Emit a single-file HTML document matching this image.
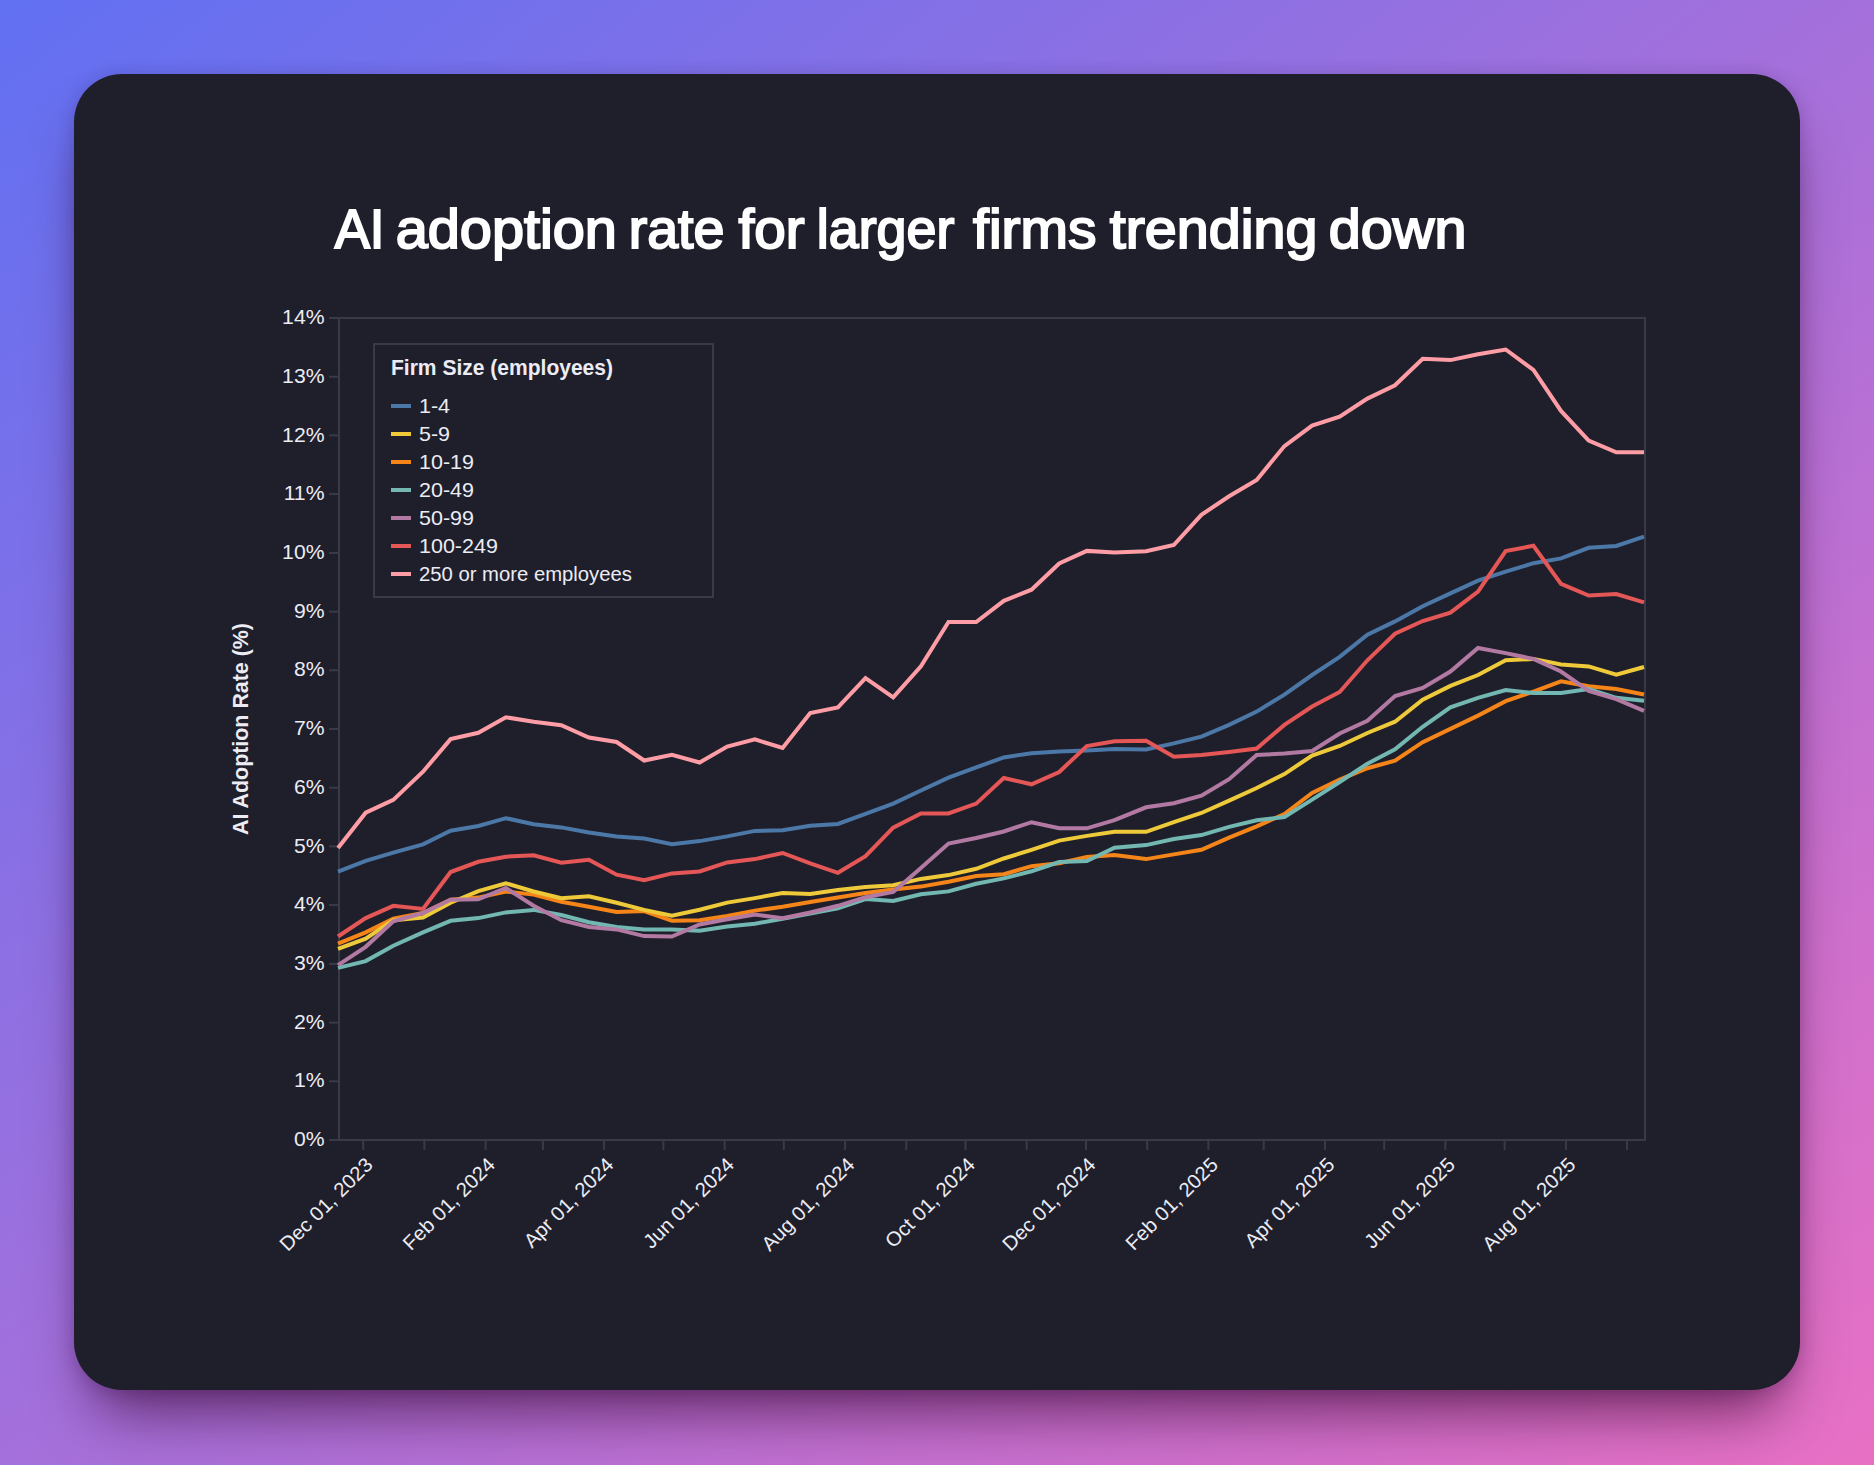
<!DOCTYPE html>
<html lang="en"><head><meta charset="utf-8"><title>AI adoption rate for larger firms trending down</title>
<style>
html,body{margin:0;padding:0}
body{width:1874px;height:1465px;overflow:hidden;position:relative;background:linear-gradient(to bottom right,#6170f2 0%,#e870c4 100%);font-family:"Liberation Sans",sans-serif}
.card{position:absolute;left:74px;top:74px;width:1726px;height:1316px;border-radius:48px;background:#1f1f2b;box-shadow:0 40px 60px -20px rgba(50,0,40,.66),0 2px 18px rgba(30,0,60,.2)}
svg{position:absolute;left:0;top:0}
text{font-family:"Liberation Sans",sans-serif;fill:#ececf4}
.tick{font-size:20px}
.xl{font-size:20px}
.leg{font-size:20px}
.bold{font-weight:700}
.ln{fill:none;stroke-width:4;stroke-linejoin:miter;stroke-miterlimit:10;stroke-linecap:butt}
</style></head><body>
<div class="card"></div>
<svg width="1874" height="1465" viewBox="0 0 1874 1465">
<g font-size="55" stroke="#fff" stroke-width="2.0" stroke-linejoin="miter" style="fill:#fff">
<text x="334.71" y="247.6" textLength="49.82" lengthAdjust="spacingAndGlyphs" style="fill:#fff">AI</text>
<text x="395.67" y="247.6" textLength="221.28" lengthAdjust="spacingAndGlyphs" style="fill:#fff">adoption</text>
<text x="628.70" y="247.6" textLength="95.81" lengthAdjust="spacingAndGlyphs" style="fill:#fff">rate</text>
<text x="738.42" y="247.6" textLength="66.16" lengthAdjust="spacingAndGlyphs" style="fill:#fff">for</text>
<text x="816.80" y="247.6" textLength="137.53" lengthAdjust="spacingAndGlyphs" style="fill:#fff">larger</text>
<text x="973.07" y="247.6" textLength="123.46" lengthAdjust="spacingAndGlyphs" style="fill:#fff">firms</text>
<text x="1109.68" y="247.6" textLength="207.68" lengthAdjust="spacingAndGlyphs" style="fill:#fff">trending</text>
<text x="1328.85" y="247.6" textLength="137.53" lengthAdjust="spacingAndGlyphs" style="fill:#fff">down</text>
</g>
<rect x="339.0" y="318.0" width="1306.0" height="822.0" fill="none" stroke="#393948" stroke-width="2"/>
<line x1="329.0" x2="339.0" y1="1140.0" y2="1140.0" stroke="#393948" stroke-width="2"/>
<text class="tick" text-anchor="end" transform="translate(324.5,1146.1) scale(1.06,1)">0%</text>
<line x1="329.0" x2="339.0" y1="1081.3" y2="1081.3" stroke="#393948" stroke-width="2"/>
<text class="tick" text-anchor="end" transform="translate(324.5,1087.4) scale(1.06,1)">1%</text>
<line x1="329.0" x2="339.0" y1="1022.6" y2="1022.6" stroke="#393948" stroke-width="2"/>
<text class="tick" text-anchor="end" transform="translate(324.5,1028.7) scale(1.06,1)">2%</text>
<line x1="329.0" x2="339.0" y1="963.9" y2="963.9" stroke="#393948" stroke-width="2"/>
<text class="tick" text-anchor="end" transform="translate(324.5,970.0) scale(1.06,1)">3%</text>
<line x1="329.0" x2="339.0" y1="905.1" y2="905.1" stroke="#393948" stroke-width="2"/>
<text class="tick" text-anchor="end" transform="translate(324.5,911.2) scale(1.06,1)">4%</text>
<line x1="329.0" x2="339.0" y1="846.4" y2="846.4" stroke="#393948" stroke-width="2"/>
<text class="tick" text-anchor="end" transform="translate(324.5,852.5) scale(1.06,1)">5%</text>
<line x1="329.0" x2="339.0" y1="787.7" y2="787.7" stroke="#393948" stroke-width="2"/>
<text class="tick" text-anchor="end" transform="translate(324.5,793.8) scale(1.06,1)">6%</text>
<line x1="329.0" x2="339.0" y1="729.0" y2="729.0" stroke="#393948" stroke-width="2"/>
<text class="tick" text-anchor="end" transform="translate(324.5,735.1) scale(1.06,1)">7%</text>
<line x1="329.0" x2="339.0" y1="670.3" y2="670.3" stroke="#393948" stroke-width="2"/>
<text class="tick" text-anchor="end" transform="translate(324.5,676.4) scale(1.06,1)">8%</text>
<line x1="329.0" x2="339.0" y1="611.6" y2="611.6" stroke="#393948" stroke-width="2"/>
<text class="tick" text-anchor="end" transform="translate(324.5,617.7) scale(1.06,1)">9%</text>
<line x1="329.0" x2="339.0" y1="552.9" y2="552.9" stroke="#393948" stroke-width="2"/>
<text class="tick" text-anchor="end" transform="translate(324.5,559.0) scale(1.06,1)">10%</text>
<line x1="329.0" x2="339.0" y1="494.1" y2="494.1" stroke="#393948" stroke-width="2"/>
<text class="tick" text-anchor="end" transform="translate(324.5,500.2) scale(1.06,1)">11%</text>
<line x1="329.0" x2="339.0" y1="435.4" y2="435.4" stroke="#393948" stroke-width="2"/>
<text class="tick" text-anchor="end" transform="translate(324.5,441.5) scale(1.06,1)">12%</text>
<line x1="329.0" x2="339.0" y1="376.7" y2="376.7" stroke="#393948" stroke-width="2"/>
<text class="tick" text-anchor="end" transform="translate(324.5,382.8) scale(1.06,1)">13%</text>
<line x1="329.0" x2="339.0" y1="318.0" y2="318.0" stroke="#393948" stroke-width="2"/>
<text class="tick" text-anchor="end" transform="translate(324.5,324.1) scale(1.06,1)">14%</text>
<line x1="363.2" x2="363.2" y1="1140.0" y2="1150.0" stroke="#393948" stroke-width="2"/>
<text class="xl" text-anchor="end" transform="translate(374.0,1166.0) rotate(-45) scale(1.025,1)">Dec 01, 2023</text>
<line x1="424.4" x2="424.4" y1="1140.0" y2="1150.0" stroke="#393948" stroke-width="2"/>
<line x1="485.6" x2="485.6" y1="1140.0" y2="1150.0" stroke="#393948" stroke-width="2"/>
<text class="xl" text-anchor="end" transform="translate(496.4,1166.0) rotate(-45) scale(1.025,1)">Feb 01, 2024</text>
<line x1="542.9" x2="542.9" y1="1140.0" y2="1150.0" stroke="#393948" stroke-width="2"/>
<line x1="604.1" x2="604.1" y1="1140.0" y2="1150.0" stroke="#393948" stroke-width="2"/>
<text class="xl" text-anchor="end" transform="translate(614.9,1166.0) rotate(-45) scale(1.025,1)">Apr 01, 2024</text>
<line x1="663.4" x2="663.4" y1="1140.0" y2="1150.0" stroke="#393948" stroke-width="2"/>
<line x1="724.6" x2="724.6" y1="1140.0" y2="1150.0" stroke="#393948" stroke-width="2"/>
<text class="xl" text-anchor="end" transform="translate(735.4,1166.0) rotate(-45) scale(1.025,1)">Jun 01, 2024</text>
<line x1="783.8" x2="783.8" y1="1140.0" y2="1150.0" stroke="#393948" stroke-width="2"/>
<line x1="845.1" x2="845.1" y1="1140.0" y2="1150.0" stroke="#393948" stroke-width="2"/>
<text class="xl" text-anchor="end" transform="translate(855.9,1166.0) rotate(-45) scale(1.025,1)">Aug 01, 2024</text>
<line x1="906.3" x2="906.3" y1="1140.0" y2="1150.0" stroke="#393948" stroke-width="2"/>
<line x1="965.5" x2="965.5" y1="1140.0" y2="1150.0" stroke="#393948" stroke-width="2"/>
<text class="xl" text-anchor="end" transform="translate(976.3,1166.0) rotate(-45) scale(1.025,1)">Oct 01, 2024</text>
<line x1="1026.7" x2="1026.7" y1="1140.0" y2="1150.0" stroke="#393948" stroke-width="2"/>
<line x1="1086.0" x2="1086.0" y1="1140.0" y2="1150.0" stroke="#393948" stroke-width="2"/>
<text class="xl" text-anchor="end" transform="translate(1096.8,1166.0) rotate(-45) scale(1.025,1)">Dec 01, 2024</text>
<line x1="1147.2" x2="1147.2" y1="1140.0" y2="1150.0" stroke="#393948" stroke-width="2"/>
<line x1="1208.4" x2="1208.4" y1="1140.0" y2="1150.0" stroke="#393948" stroke-width="2"/>
<text class="xl" text-anchor="end" transform="translate(1219.2,1166.0) rotate(-45) scale(1.025,1)">Feb 01, 2025</text>
<line x1="1263.7" x2="1263.7" y1="1140.0" y2="1150.0" stroke="#393948" stroke-width="2"/>
<line x1="1324.9" x2="1324.9" y1="1140.0" y2="1150.0" stroke="#393948" stroke-width="2"/>
<text class="xl" text-anchor="end" transform="translate(1335.7,1166.0) rotate(-45) scale(1.025,1)">Apr 01, 2025</text>
<line x1="1384.2" x2="1384.2" y1="1140.0" y2="1150.0" stroke="#393948" stroke-width="2"/>
<line x1="1445.4" x2="1445.4" y1="1140.0" y2="1150.0" stroke="#393948" stroke-width="2"/>
<text class="xl" text-anchor="end" transform="translate(1456.2,1166.0) rotate(-45) scale(1.025,1)">Jun 01, 2025</text>
<line x1="1504.6" x2="1504.6" y1="1140.0" y2="1150.0" stroke="#393948" stroke-width="2"/>
<line x1="1565.9" x2="1565.9" y1="1140.0" y2="1150.0" stroke="#393948" stroke-width="2"/>
<text class="xl" text-anchor="end" transform="translate(1576.7,1166.0) rotate(-45) scale(1.025,1)">Aug 01, 2025</text>
<line x1="1627.1" x2="1627.1" y1="1140.0" y2="1150.0" stroke="#393948" stroke-width="2"/>
<text class="bold" font-size="22" text-anchor="middle" transform="translate(248,729) rotate(-90)" textLength="212" lengthAdjust="spacingAndGlyphs">AI Adoption Rate (%)</text>
<polyline class="ln" stroke="#4c78a8" points="338.0,871.6 365.7,860.8 393.3,852.6 423.0,844.4 450.6,830.7 478.3,826.0 505.9,818.2 533.6,824.3 561.3,827.4 588.9,832.5 616.6,836.6 644.2,838.6 671.9,844.2 699.6,841.1 727.2,836.4 754.9,830.9 782.6,830.3 810.2,825.8 837.9,824.0 865.5,813.8 893.2,803.6 920.9,790.5 948.5,777.6 976.2,767.4 1003.8,757.4 1031.5,753.2 1059.2,751.5 1086.8,750.5 1114.5,748.9 1146.1,749.5 1173.8,743.4 1201.4,736.6 1229.1,724.9 1256.7,711.6 1284.4,694.6 1312.1,675.0 1339.7,656.8 1367.4,634.7 1395.0,621.4 1422.7,606.2 1450.4,593.4 1478.0,580.6 1505.7,571.7 1533.4,563.2 1561.0,558.4 1588.7,547.8 1616.3,546.0 1644.0,536.6"/>
<polyline class="ln" stroke="#f58518" points="338.0,943.7 365.7,932.4 393.3,918.7 423.0,913.0 450.6,899.7 478.3,897.6 505.9,891.5 533.6,894.6 561.3,901.7 588.9,906.8 616.6,912.0 644.2,911.0 671.9,920.7 699.6,920.2 727.2,916.0 754.9,910.6 782.6,906.8 810.2,902.0 837.9,897.6 865.5,893.0 893.2,889.5 920.9,886.6 948.5,881.8 976.2,876.0 1003.8,874.2 1031.5,866.2 1059.2,863.2 1086.8,857.0 1114.5,855.0 1146.1,859.1 1173.8,854.4 1201.4,849.8 1229.1,837.6 1256.7,826.3 1284.4,814.0 1312.1,793.0 1339.7,779.7 1367.4,768.2 1395.0,760.6 1422.7,742.2 1450.4,728.9 1478.0,715.6 1505.7,701.2 1533.4,691.6 1561.0,681.4 1588.7,686.3 1616.3,689.0 1644.0,694.5"/>
<polyline class="ln" stroke="#e45756" points="338.0,936.5 365.7,918.1 393.3,905.8 423.0,908.9 450.6,872.0 478.3,861.8 505.9,856.7 533.6,855.2 561.3,862.8 588.9,859.7 616.6,874.7 644.2,880.2 671.9,873.4 699.6,871.5 727.2,862.4 754.9,859.1 782.6,853.0 810.2,863.3 837.9,872.8 865.5,856.2 893.2,827.7 920.9,813.5 948.5,813.5 976.2,803.6 1003.8,778.0 1031.5,784.3 1059.2,772.0 1086.8,746.0 1114.5,741.3 1146.1,740.7 1173.8,756.7 1201.4,755.0 1229.1,752.0 1256.7,748.5 1284.4,724.9 1312.1,706.5 1339.7,692.0 1367.4,660.3 1395.0,633.7 1422.7,621.0 1450.4,612.6 1478.0,591.7 1505.7,551.0 1533.4,545.8 1561.0,583.9 1588.7,595.6 1616.3,594.0 1644.0,602.3"/>
<polyline class="ln" stroke="#72b7b2" points="338.0,967.9 365.7,961.1 393.3,945.8 423.0,932.4 450.6,920.8 478.3,918.1 505.9,912.4 533.6,909.9 561.3,915.0 588.9,922.2 616.6,926.9 644.2,929.4 671.9,929.6 699.6,930.8 727.2,926.4 754.9,923.7 782.6,918.7 810.2,913.5 837.9,908.3 865.5,899.1 893.2,901.0 920.9,894.3 948.5,891.4 976.2,883.7 1003.8,878.4 1031.5,871.3 1059.2,862.1 1086.8,861.1 1114.5,847.8 1146.1,845.1 1173.8,839.0 1201.4,835.1 1229.1,826.9 1256.7,820.2 1284.4,817.1 1312.1,799.6 1339.7,782.0 1367.4,763.7 1395.0,749.4 1422.7,726.8 1450.4,707.4 1478.0,697.8 1505.7,690.0 1533.4,693.0 1561.0,693.0 1588.7,689.0 1616.3,697.8 1644.0,700.8"/>
<polyline class="ln" stroke="#ff9da6" points="338.0,847.9 365.7,812.7 393.3,799.9 423.0,771.7 450.6,739.1 478.3,732.8 505.9,717.3 533.6,721.8 561.3,725.2 588.9,737.5 616.6,742.0 644.2,760.5 671.9,754.8 699.6,762.5 727.2,746.5 754.9,739.4 782.6,748.0 810.2,713.1 837.9,707.4 865.5,678.2 893.2,697.3 920.9,666.3 948.5,622.0 976.2,622.0 1003.8,600.8 1031.5,589.7 1059.2,563.5 1086.8,550.9 1114.5,552.6 1146.1,551.3 1173.8,545.0 1201.4,514.8 1229.1,496.3 1256.7,479.9 1284.4,446.1 1312.1,425.6 1339.7,416.7 1367.4,398.6 1395.0,385.3 1422.7,358.7 1450.4,360.1 1478.0,354.2 1505.7,349.5 1533.4,369.9 1561.0,410.9 1588.7,440.6 1616.3,452.3 1644.0,452.3"/>
<polyline class="ln" stroke="#eeca3b" points="338.0,948.8 365.7,938.6 393.3,920.2 423.0,917.5 450.6,902.7 478.3,891.1 505.9,883.3 533.6,891.5 561.3,898.2 588.9,896.2 616.6,902.7 644.2,909.9 671.9,915.7 699.6,909.7 727.2,902.6 754.9,898.1 782.6,893.0 810.2,893.9 837.9,889.9 865.5,887.0 893.2,885.3 920.9,878.9 948.5,875.1 976.2,868.8 1003.8,858.5 1031.5,849.8 1059.2,840.6 1086.8,835.9 1114.5,831.8 1146.1,831.8 1173.8,822.2 1201.4,813.0 1229.1,800.7 1256.7,788.0 1284.4,774.1 1312.1,755.5 1339.7,746.0 1367.4,733.0 1395.0,721.7 1422.7,699.8 1450.4,685.9 1478.0,675.0 1505.7,660.3 1533.4,658.9 1561.0,664.4 1588.7,666.4 1616.3,674.6 1644.0,667.0"/>
<polyline class="ln" stroke="#b279a2" points="338.0,965.2 365.7,946.8 393.3,921.2 423.0,913.0 450.6,899.7 478.3,899.3 505.9,888.0 533.6,905.8 561.3,920.2 588.9,926.9 616.6,929.4 644.2,936.1 671.9,936.5 699.6,924.5 727.2,919.3 754.9,914.5 782.6,918.3 810.2,912.5 837.9,905.8 865.5,897.2 893.2,892.0 920.9,868.0 948.5,843.5 976.2,838.0 1003.8,831.5 1031.5,822.2 1059.2,828.3 1086.8,828.3 1114.5,820.2 1146.1,807.3 1173.8,803.2 1201.4,795.6 1229.1,779.2 1256.7,755.0 1284.4,753.6 1312.1,751.0 1339.7,733.5 1367.4,720.7 1395.0,696.1 1422.7,687.9 1450.4,671.5 1478.0,648.0 1505.7,653.1 1533.4,658.9 1561.0,671.5 1588.7,691.0 1616.3,699.2 1644.0,710.9"/>
<rect x="374" y="344" width="339" height="253" fill="#1f1f2b" stroke="#393948" stroke-width="2"/>
<text class="bold" font-size="22" x="391" y="375" textLength="222" lengthAdjust="spacingAndGlyphs">Firm Size (employees)</text>
<line x1="391" x2="411" y1="406" y2="406" stroke="#4c78a8" stroke-width="4"/>
<text class="leg" transform="translate(419,412.8) scale(1.075,1)">1-4</text>
<line x1="391" x2="411" y1="434" y2="434" stroke="#eeca3b" stroke-width="4"/>
<text class="leg" transform="translate(419,440.8) scale(1.075,1)">5-9</text>
<line x1="391" x2="411" y1="462" y2="462" stroke="#f58518" stroke-width="4"/>
<text class="leg" transform="translate(419,468.8) scale(1.075,1)">10-19</text>
<line x1="391" x2="411" y1="490" y2="490" stroke="#72b7b2" stroke-width="4"/>
<text class="leg" transform="translate(419,496.8) scale(1.075,1)">20-49</text>
<line x1="391" x2="411" y1="518" y2="518" stroke="#b279a2" stroke-width="4"/>
<text class="leg" transform="translate(419,524.8) scale(1.075,1)">50-99</text>
<line x1="391" x2="411" y1="546" y2="546" stroke="#e45756" stroke-width="4"/>
<text class="leg" transform="translate(419,552.8) scale(1.075,1)">100-249</text>
<line x1="391" x2="411" y1="574" y2="574" stroke="#ff9da6" stroke-width="4"/>
<text class="leg" transform="translate(419,580.8) scale(1.014,1)">250 or more employees</text>
</svg></body></html>
